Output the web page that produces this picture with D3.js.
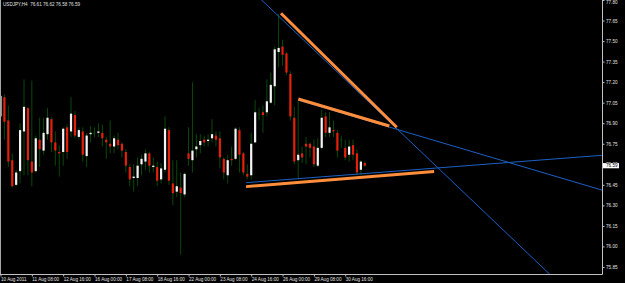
<!DOCTYPE html>
<html>
<head>
<meta charset="utf-8">
<script src="https://cdn.jsdelivr.net/npm/d3@7"></script>
<style>
  html, body { margin: 0; padding: 0; background: #000; }
  svg { display: block; }
  text { font-family: "Liberation Sans", Arial, sans-serif; }
</style>
</head>
<body>
<div id="chart"></div>
<script>
const title = "USDJPY,H4  76.61 76.62 76.58 76.59"

// H4 bars, bar 0 = 10 Aug 2011 00:00
const opens = [76.95, 77.09, 76.92, 76.63, 76.45, 76.55, 76.84, 77.01, 76.62, 76.55,
  76.78, 76.70, 76.82, 76.93, 76.76, 76.69, 76.69, 76.87, 76.84, 76.96,
  76.80, 76.84, 76.66, 76.82, 76.83, 76.83, 76.83, 76.78, 76.75, 76.73,
  76.78, 76.75, 76.69, 76.58, 76.50, 76.50, 76.60, 76.62, 76.68, 76.58,
  76.58, 76.49, 76.56, 76.85, 76.46, 76.40, 76.43, 76.38, 76.68, 76.63,
  76.71, 76.74, 76.78, 76.77, 76.79, 76.81, 76.79, 76.64, 76.52, 76.64,
  76.64, 76.85, 76.68, 76.53, 76.52, 76.76, 76.97, 76.98, 76.98, 77.05,
  77.17, 77.42, 77.46, 77.41, 77.26, 76.94, 76.63, 76.68, 76.75, 76.75,
  76.73, 76.59, 76.72, 76.95, 76.83, 76.85, 76.83, 76.78, 76.72, 76.67,
  76.74, 76.68, 76.56, 76.61]
const highs = [77.25, 77.11, 77.03, 76.68, 76.56, 76.90, 77.22, 77.02, 77.21, 76.81,
  76.94, 76.94, 77.01, 76.94, 76.84, 76.74, 76.87, 76.89, 77.09, 76.99,
  76.87, 76.87, 76.83, 76.88, 76.87, 76.90, 76.89, 76.80, 76.92, 76.81,
  76.83, 76.76, 76.71, 76.60, 76.60, 76.65, 76.67, 76.71, 76.69, 76.65,
  76.62, 76.61, 76.95, 76.87, 76.63, 76.63, 76.54, 76.54, 76.87, 77.20,
  76.82, 76.82, 76.81, 76.82, 76.93, 76.84, 76.84, 76.65, 76.67, 76.73,
  76.87, 76.87, 76.69, 76.60, 76.83, 77.07, 77.01, 77.03, 77.22, 77.27,
  77.46, 77.70, 77.51, 77.42, 77.28, 77.02, 77.07, 76.73, 76.80, 76.76,
  76.78, 76.79, 77.00, 76.98, 76.98, 76.92, 76.85, 76.81, 76.78, 76.78,
  76.78, 76.71, 76.63, 76.62]
const lows = [76.94, 76.78, 76.58, 76.43, 76.44, 76.46, 76.52, 76.52, 76.44, 76.54,
  76.58, 76.67, 76.78, 76.69, 76.59, 76.51, 76.59, 76.64, 76.80, 76.79,
  76.78, 76.62, 76.58, 76.76, 76.80, 76.80, 76.73, 76.64, 76.68, 76.68,
  76.71, 76.65, 76.54, 76.44, 76.40, 76.44, 76.52, 76.56, 76.54, 76.54,
  76.44, 76.46, 76.54, 76.45, 76.30, 76.36, 75.94, 76.36, 76.59, 76.54,
  76.65, 76.68, 76.73, 76.73, 76.76, 76.73, 76.57, 76.49, 76.46, 76.59,
  76.63, 76.54, 76.52, 76.49, 76.49, 76.76, 76.92, 76.83, 76.95, 77.04,
  77.03, 77.31, 77.32, 77.25, 76.92, 76.60, 76.49, 76.61, 76.60, 76.65,
  76.58, 76.58, 76.71, 76.80, 76.80, 76.80, 76.65, 76.72, 76.63, 76.62,
  76.63, 76.52, 76.52, 76.58]
const closes = [77.10, 76.91, 76.62, 76.44, 76.54, 76.85, 77.02, 76.63, 76.54, 76.79,
  76.71, 76.83, 76.94, 76.76, 76.70, 76.68, 76.86, 76.69, 76.97, 76.81,
  76.85, 76.67, 76.81, 76.83, 76.83, 76.84, 76.79, 76.76, 76.73, 76.79,
  76.74, 76.70, 76.59, 76.49, 76.51, 76.59, 76.64, 76.68, 76.59, 76.59,
  76.48, 76.57, 76.86, 76.48, 76.39, 76.44, 76.39, 76.53, 76.64, 76.70,
  76.73, 76.77, 76.76, 76.78, 76.82, 76.78, 76.65, 76.54, 76.63, 76.63,
  76.86, 76.67, 76.54, 76.51, 76.75, 76.98, 76.97, 76.96, 77.06, 77.18,
  77.44, 77.45, 77.40, 77.27, 76.95, 76.62, 76.67, 76.65, 76.73, 76.72,
  76.60, 76.72, 76.94, 76.83, 76.87, 76.84, 76.70, 76.78, 76.65, 76.73,
  76.67, 76.54, 76.62, 76.59]

const priceTicks = [75.85, 76.00, 76.15, 76.30, 76.45, 76.60, 76.75, 76.90, 77.05, 77.20, 77.35, 77.50, 77.65, 77.80]
const timeTickBars = [0, 8, 16, 24, 32, 40, 48, 56, 64, 72, 80, 88]
const timeTickLabels = ["10 Aug 2011", "11 Aug 08:00", "12 Aug 16:00", "16 Aug 00:00", "17 Aug 08:00", "18 Aug 16:00",
  "22 Aug 00:00", "23 Aug 08:00", "24 Aug 16:00", "26 Aug 00:00", "29 Aug 08:00", "30 Aug 16:00"]

const bid = 76.59

// trendlines as [bar, price] anchors
const blueLine = [[70, 77.709], [100, 76.892]]      // runs across the whole chart
const blueRays = [
  [[76, 77.069], [120, 76.696]],
  [[62.7, 76.466], [120, 76.592]]
]
const orangeSegments = [
  [[71.6, 77.703], [101.15, 76.871]],
  [[76.03, 77.077], [99.26, 76.880]],
  [[62.68, 76.437], [110.7, 76.547]]
]

const width = 625
const height = 283
const plotRight = 602.5
const plotBottom = 274.5

const svg = d3.select("#chart").append("svg")
  .attr("width", width)
  .attr("height", height)

svg.append("rect").attr("width", width).attr("height", height).attr("fill", "#000")

const x = d3.scaleLinear().domain([0, 93]).range([0.5, 364.8])
const y = d3.scaleLinear().domain([75.85, 77.80]).range([267, 0])

svg.append("clipPath").attr("id", "plot-clip")
  .append("rect").attr("x", 0).attr("y", 0).attr("width", plotRight).attr("height", plotBottom)

// candles
const bars = opens.map((o, i) => ({ i: i, o: o, h: highs[i], l: lows[i], c: closes[i] }))
const candles = svg.append("g").attr("clip-path", "url(#plot-clip)")

candles.selectAll("line.wick")
  .data(bars)
  .enter().append("line")
    .attr("class", "wick")
    .attr("x1", d => x(d.i)).attr("x2", d => x(d.i))
    .attr("y1", d => y(d.h)).attr("y2", d => y(d.l))
    .attr("stroke", "#0b480b")
    .attr("stroke-width", 1)

candles.selectAll("rect.body")
  .data(bars)
  .enter().append("rect")
    .attr("class", "body")
    .attr("x", d => x(d.i) - 1.1)
    .attr("width", 2.2)
    .attr("y", d => y(Math.max(d.o, d.c)))
    .attr("height", d => Math.max(0.9, Math.abs(y(d.o) - y(d.c))))
    .attr("fill", d => d.c > d.o ? "#f4f4f4" : d.c < d.o ? "#e4200a" : "#0b480b")

// trend lines, blue ones first, orange drawn over them
const trend = svg.append("g").attr("clip-path", "url(#plot-clip)")

const extendTo = (pts, from, to) => {
  const [[b0, p0], [b1, p1]] = pts
  const k = (p1 - p0) / (b1 - b0)
  return [[from, p0 + k * (from - b0)], [to, p0 + k * (to - b0)]]
}

const lineGen = d3.line().x(d => x(d[0])).y(d => y(d[1]))

trend.append("path")
  .attr("d", lineGen(extendTo(blueLine, 40, 170)))
  .attr("fill", "none").attr("stroke", "#1d60c4").attr("stroke-width", 1)

blueRays.forEach(pts => {
  trend.append("path")
    .attr("d", lineGen(extendTo(pts, pts[0][0], 170)))
    .attr("fill", "none").attr("stroke", "#1d60c4").attr("stroke-width", 1)
})

orangeSegments.forEach(pts => {
  trend.append("path")
    .attr("d", lineGen(pts))
    .attr("fill", "none").attr("stroke", "#ff8e3c").attr("stroke-width", 3)
})

// frame
svg.append("line").attr("x1", 0.5).attr("x2", 0.5).attr("y1", 0).attr("y2", plotBottom)
  .attr("stroke", "#a8a8a8")
svg.append("line").attr("x1", plotRight).attr("x2", plotRight).attr("y1", 0).attr("y2", plotBottom)
  .attr("stroke", "#c0c0c0")
svg.append("line").attr("x1", 0).attr("x2", plotRight).attr("y1", plotBottom).attr("y2", plotBottom)
  .attr("stroke", "#c0c0c0")

// price scale
const yAxis = svg.append("g")
  .attr("transform", `translate(${plotRight},0)`)
  .call(d3.axisRight(y).tickValues(priceTicks).tickFormat(d3.format(".2f")).tickSize(2).tickPadding(1.5))
yAxis.select(".domain").remove()
yAxis.selectAll("line").attr("stroke", "#c0c0c0")
yAxis.selectAll("text").attr("fill", "#e0e0e0").attr("font-size", 4.6)
// top label sits on the edge, nudge it down so it stays readable
yAxis.selectAll(".tick").filter(d => y(d) < 2.5).select("text").attr("y", 2.5 - y(77.80))

// time scale
const xAxis = svg.append("g")
  .attr("transform", `translate(0,${plotBottom})`)
  .call(d3.axisBottom(x).tickValues(timeTickBars).tickFormat((d, i) => timeTickLabels[i]).tickSize(2).tickPadding(0.8))
xAxis.select(".domain").remove()
xAxis.selectAll("line").attr("stroke", "#c0c0c0")
xAxis.selectAll("text").attr("fill", "#e0e0e0").attr("font-size", 4.6).attr("text-anchor", "start")

// bid price label
svg.append("rect")
  .attr("x", plotRight + 0.5).attr("y", y(bid) - 2.6)
  .attr("width", 16).attr("height", 5.2)
  .attr("fill", "#ffffff")
svg.append("text")
  .attr("x", plotRight + 3.5).attr("y", y(bid))
  .attr("dy", "0.35em")
  .attr("font-size", 4.6)
  .attr("fill", "#000")
  .text(d3.format(".2f")(bid))

// symbol caption
svg.append("text")
  .attr("x", 3).attr("y", 4)
  .attr("dy", "0.35em")
  .attr("font-size", 4.6)
  .attr("fill", "#e0e0e0")
  .attr("xml:space", "preserve")
  .style("white-space", "pre")
  .text(title)
</script>
</body>
</html>
